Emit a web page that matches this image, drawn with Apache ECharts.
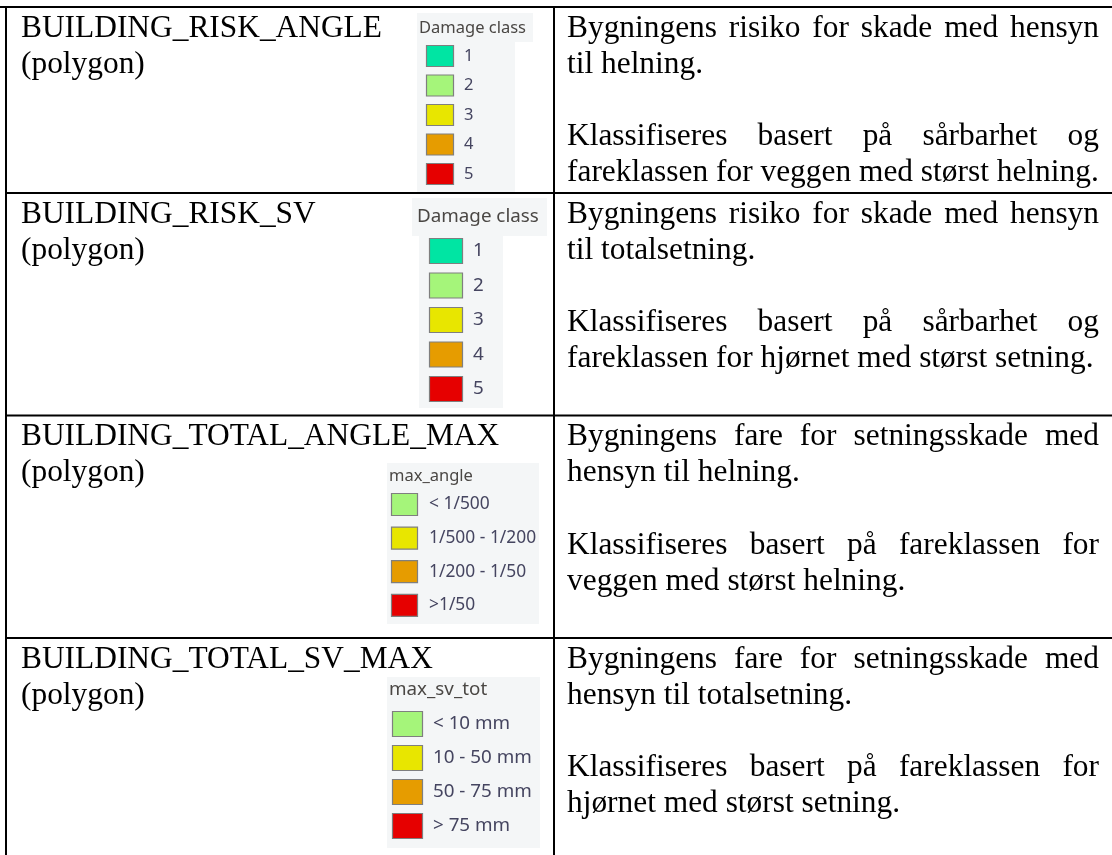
<!DOCTYPE html>
<html>
<head>
<meta charset="utf-8">
<script src="https://cdn.jsdelivr.net/npm/echarts@6/dist/echarts.min.js"></script>
<style>
html,body{margin:0;padding:0;background:#fff;}
#chart{width:1112px;height:855px;}
</style>
</head>
<body>
<div id="chart"></div>
<script>
// ---------- data ----------
const layerNames = ['BUILDING_RISK_ANGLE', 'BUILDING_RISK_SV', 'BUILDING_TOTAL_ANGLE_MAX', 'BUILDING_TOTAL_SV_MAX'];
const geometryLabel = '(polygon)';
const legendTitles = ['Damage class', 'Damage class', 'max_angle', 'max_sv_tot'];
const legendLabels = [
  ['1', '2', '3', '4', '5'],
  ['1', '2', '3', '4', '5'],
  ['< 1/500', '1/500 - 1/200', '1/200 - 1/50', '>1/50'],
  ['< 10 mm', '10 - 50 mm', '50 - 75 mm', '> 75 mm']
];
const classColors = ['#00e5a3', '#a5f57a', '#e8e600', '#e69c00', '#e60000'];
const legendColorIdx = [[0, 1, 2, 3, 4], [0, 1, 2, 3, 4], [1, 2, 3, 4], [1, 2, 3, 4]];
const descriptions = [
  [['Bygningens risiko for skade med hensyn', 'til helning.'],
   ['Klassifiseres basert på sårbarhet og', 'fareklassen for veggen med størst helning.']],
  [['Bygningens risiko for skade med hensyn', 'til totalsetning.'],
   ['Klassifiseres basert på sårbarhet og', 'fareklassen for hjørnet med størst setning.']],
  [['Bygningens fare for setningsskade med', 'hensyn til helning.'],
   ['Klassifiseres basert på fareklassen for', 'veggen med størst helning.']],
  [['Bygningens fare for setningsskade med', 'hensyn til totalsetning.'],
   ['Klassifiseres basert på fareklassen for', 'hjørnet med størst setning.']]
];

// ---------- layout ----------
const W = 1112, H = 855;
const rowTops = [7, 193, 415.5, 638];
const colX = [6, 554];
const serif = '"Liberation Serif", "Times New Roman", serif';
const sans = '"Noto Sans", "Open Sans", sans-serif';
const serifSize = 31.4;
const lineH = 36.1;
const firstBase = 32;          // first baseline below a row's top border
const midOffset = 10.5;        // baseline -> vertical middle of the serif text
const descX = 567, descW = 532;
const legendLayout = [
  {panels: [[417, 13, 116, 29], [417, 42, 98, 150]], tx: 419, ty: 28, ts: 16.5, sx: 426, sw: 28, sh: 22, sy: 45, pitch: 29.5, lx: 464, ls: 16.5},
  {panels: [[412, 198, 135, 38], [419, 236, 84, 172]], tx: 417, ty: 217, ts: 18.8, sx: 429, sw: 34, sh: 26, sy: 238, pitch: 34.5, lx: 473, ls: 18.8},
  {panels: [[387, 463, 152, 161]], tx: 389, ty: 476, ts: 16.5, sx: 391, sw: 27, sh: 23, sy: 493, pitch: 33.6, lx: 429, ls: 17.4},
  {panels: [[387, 677, 153, 171]], tx: 389, ty: 690, ts: 18.8, sx: 392, sw: 31, sh: 26, sy: 711, pitch: 34, lx: 433, ls: 18.8}
];

const measureCtx = document.createElement('canvas').getContext('2d');
function textWidth(t, font) { measureCtx.font = font; return measureCtx.measureText(t).width; }

const graphics = [];
function addText(text, x, y, font, fill) {
  graphics.push({type: 'text', x: x, y: y, silent: true,
    style: {text: text, font: font, fill: fill, align: 'left', verticalAlign: 'middle'}});
}
function addRect(x, y, w, h, fill, stroke, lw) {
  graphics.push({type: 'rect', shape: {x: x, y: y, width: w, height: h}, silent: true,
    style: {fill: fill, stroke: stroke || null, lineWidth: lw || 0}});
}
function addLine(x1, y1, x2, y2) {
  graphics.push({type: 'line', shape: {x1: x1, y1: y1, x2: x2, y2: y2}, silent: true,
    style: {stroke: '#000', lineWidth: 2}});
}

const serifFont = serifSize + 'px ' + serif;
function placeLine(text, baseline, justify) {
  const words = text.split(' ');
  const widths = words.map(w => textWidth(w, serifFont));
  const sum = widths.reduce((a, b) => a + b, 0);
  const gap = (justify && words.length > 1) ? (descW - sum) / (words.length - 1) : textWidth(' ', serifFont);
  let x = descX;
  words.forEach((w, i) => { addText(w, x, baseline - midOffset, serifFont, '#000'); x += widths[i] + gap; });
}

// legends (backgrounds first)
legendLayout.forEach((L, r) => {
  L.panels.forEach(p => addRect(p[0], p[1], p[2], p[3], '#f4f6f7'));
  addText(legendTitles[r], L.tx, L.ty, L.ts + 'px ' + sans, '#4a4744');
  legendLabels[r].forEach((lab, i) => {
    const y = L.sy + i * L.pitch;
    addRect(L.sx + 0.5, y + 0.5, L.sw - 1, L.sh - 1, classColors[legendColorIdx[r][i]], '#7f7f7f', 1.2);
    addText(lab, L.lx, y + L.sh / 2, L.ls + 'px ' + sans, '#454560');
  });
});

// left column
layerNames.forEach((name, r) => {
  const b = rowTops[r] + firstBase;
  addText(name, 21, b - midOffset, serifFont, '#000');
  addText(geometryLabel, 21, b + lineH - midOffset, serifFont, '#000');
});

// right column: two paragraphs separated by an empty line
descriptions.forEach((paras, r) => {
  let k = 0;
  paras.forEach((lines, p) => {
    lines.forEach((ln, i) => {
      placeLine(ln, rowTops[r] + firstBase + k * lineH, i < lines.length - 1);
      k++;
    });
    k++; // empty paragraph
  });
});

// grid lines
addLine(0, rowTops[0], W, rowTops[0]);
for (let i = 1; i < rowTops.length; i++) addLine(colX[0], rowTops[i], W, rowTops[i]);
addLine(colX[0], rowTops[0] - 1, colX[0], H);
addLine(colX[1], rowTops[0] - 1, colX[1], H);

const chart = echarts.init(document.getElementById('chart'), null, {renderer: 'canvas', width: W, height: H});
chart.setOption({
  backgroundColor: '#ffffff',
  animation: false,
  graphic: {elements: graphics}
});
</script>
</body>
</html>
